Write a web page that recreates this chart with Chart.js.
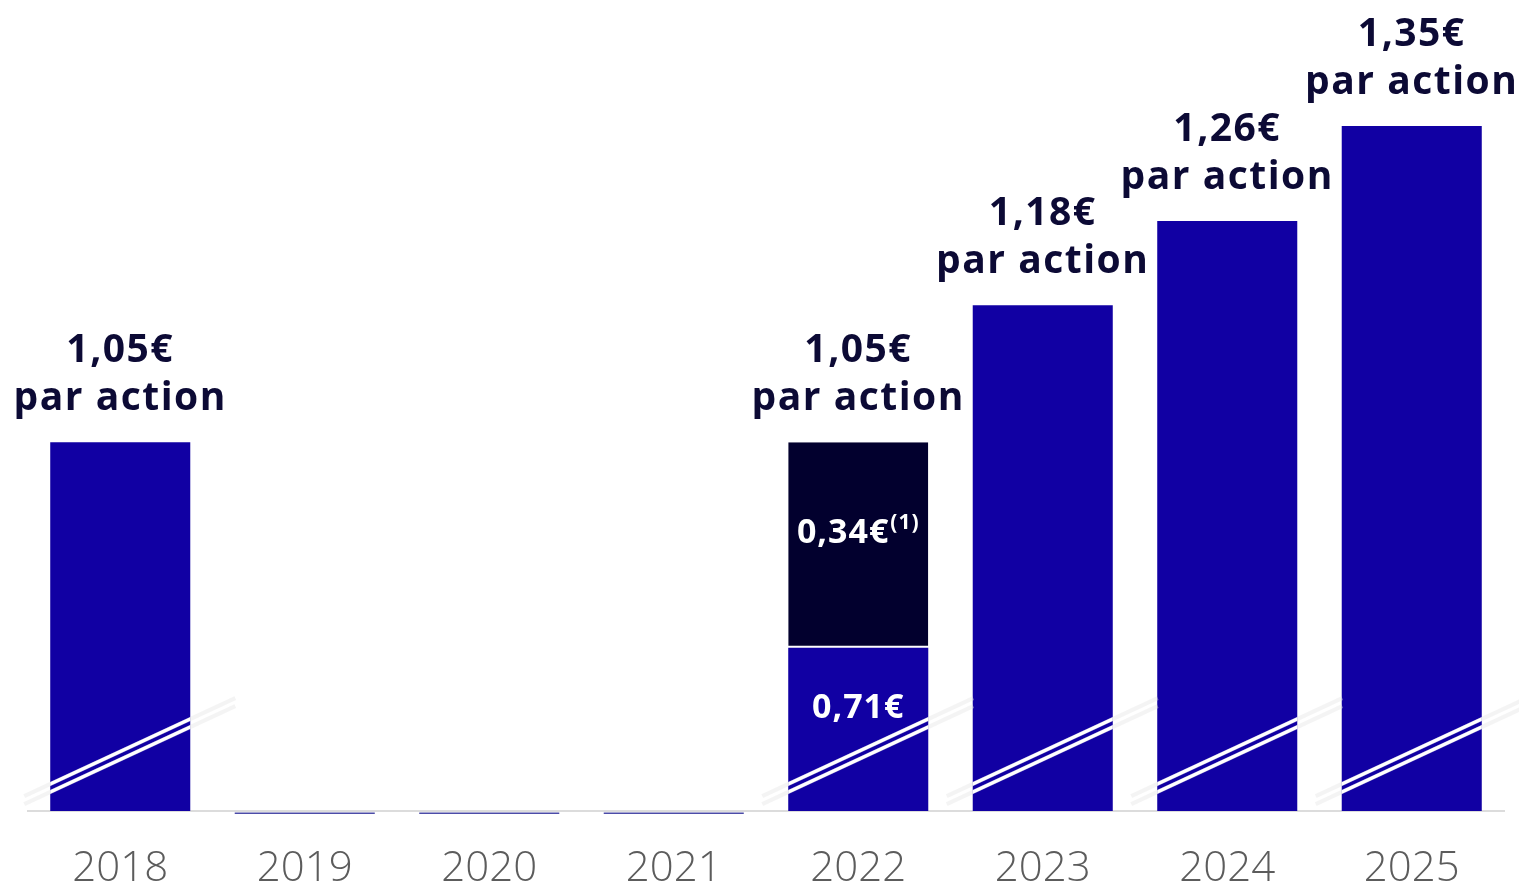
<!DOCTYPE html>
<html>
<head>
<meta charset="utf-8">
<script src="https://cdn.jsdelivr.net/npm/chart.js@4"></script>
<style>
  html, body { margin: 0; background: #fff; }
</style>
</head>
<body>
<canvas id="chart" width="1519" height="884"></canvas>
<script>
const years = ['2018', '2019', '2020', '2021', '2022', '2023', '2024', '2025'];
const dividend = [1.05, 0, 0, 0, 1.05, 1.18, 1.26, 1.35];
const ordinary2022 = 0.71;
const exceptional2022 = 0.34;

// the axis is cut: it starts at 0.70; on that cut scale the 2022 split sits at ~0.855
const axisMin = 0.70;
const axisMax = 1.4696;
const split2022 = 0.855;
const idx2022 = years.indexOf('2022');

const BLUE = '#1100a3';
const DARK = '#02002e';
const INK = '#0c0a35';
const labelFont = '"Open Sans", "Noto Sans", sans-serif';

const fmt = v => v.toFixed(2).replace('.', ',') + '€';

const blueData = dividend.map((v, i) => v === 0 ? null : (i === idx2022 ? split2022 : v));
const darkData = dividend.map((v, i) => i === idx2022 ? [split2022, v] : null);

const decorations = {
  id: 'decorations',
  afterDatasetsDraw(chart) {
    const ctx = chart.ctx;
    const y = chart.scales.y;
    const area = chart.chartArea;
    const bars = chart.getDatasetMeta(0).data;
    const bw = bars[0].width;

    ctx.save();
    dividend.forEach((v, i) => {
      const x = bars[i].x;
      const left = x - bw / 2, right = x + bw / 2;
      if (v === 0) {
        ctx.fillStyle = '#4c4ca8';
        ctx.fillRect(left, area.bottom + 1.5, bw, 1.5);
        return;
      }
      // axis break marks
      const b = area.bottom;
      const slope = 65 / 140;
      const offsets = [-27, -19];
      ctx.lineCap = 'butt';
      offsets.forEach(off => {
        const x0 = left - 26, x1 = right + 45;
        ctx.strokeStyle = 'rgba(228,228,228,0.4)';
        ctx.lineWidth = 4;
        ctx.beginPath();
        ctx.moveTo(x0, b + off + slope * (left - x0));
        ctx.lineTo(x1, b + off - slope * (x1 - left));
        ctx.stroke();
      });
      ctx.save();
      ctx.beginPath();
      ctx.rect(left, area.top, bw, b - area.top);
      ctx.clip();
      offsets.forEach(off => {
        ctx.strokeStyle = '#ffffff';
        ctx.lineWidth = 3.5;
        ctx.beginPath();
        ctx.moveTo(left - 10, b + off + slope * 10);
        ctx.lineTo(right + 10, b + off - slope * (bw + 10));
        ctx.stroke();
      });
      ctx.restore();

      // value labels above bars
      const top = y.getPixelForValue(v);
      ctx.fillStyle = INK;
      ctx.textAlign = 'center';
      ctx.textBaseline = 'middle';
      ctx.letterSpacing = '1.5px';
      ctx.font = 'bold 39px ' + labelFont;
      ctx.fillText(fmt(v), x, top - 91);
      ctx.fillText('par action', x, top - 43);
    });

    // inner labels for 2022
    const x22 = bars[idx2022].x;
    ctx.fillStyle = '#ffffff';
    ctx.textBaseline = 'middle';
    ctx.letterSpacing = '1px';
    const main = fmt(exceptional2022);
    ctx.font = 'bold 34px ' + labelFont;
    const w1 = ctx.measureText(main).width;
    ctx.font = 'bold 21px ' + labelFont;
    const w2 = ctx.measureText('(1)').width;
    const startX = x22 - (w1 + w2 + 1) / 2;
    ctx.textAlign = 'left';
    ctx.font = 'bold 34px ' + labelFont;
    ctx.fillText(main, startX, 533);
    ctx.font = 'bold 21px ' + labelFont;
    ctx.fillText('(1)', startX + w1 + 1, 523);
    ctx.textAlign = 'center';
    ctx.font = 'bold 34px ' + labelFont;
    ctx.fillText(fmt(ordinary2022), x22, 708);
    ctx.restore();
  }
};

new Chart(document.getElementById('chart'), {
  type: 'bar',
  data: {
    labels: years,
    datasets: [
      {
        data: blueData,
        backgroundColor: BLUE,
        grouped: false,
        barPercentage: 0.759,
        categoryPercentage: 1
      },
      {
        data: darkData,
        backgroundColor: DARK,
        borderColor: '#ffffff',
        borderWidth: { top: 0, left: 0, right: 0, bottom: 2 },
        borderSkipped: false,
        grouped: false,
        barPercentage: 0.759,
        categoryPercentage: 1
      }
    ]
  },
  options: {
    responsive: false,
    animation: false,
    layout: { padding: { left: 28, right: 15, top: 0, bottom: 0 } },
    plugins: { legend: { display: false }, tooltip: { enabled: false } },
    scales: {
      x: {
        grid: { display: false, drawTicks: false },
        border: { display: true, color: '#dcdcdc', width: 2 },
        ticks: {
          color: '#5c5c5c',
          font: { family: labelFont, size: 42, weight: 300 },
          padding: 33
        },
        afterFit(scale) { scale.height = 73; }
      },
      y: {
        display: false,
        min: axisMin,
        max: axisMax
      }
    }
  },
  plugins: [decorations]
});
</script>
</body>
</html>
